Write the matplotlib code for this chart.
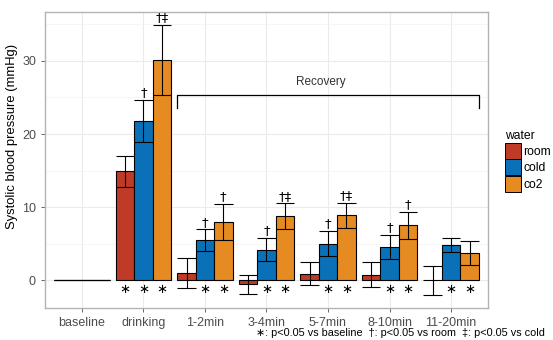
import numpy as np
import matplotlib.pyplot as plt
from matplotlib.patches import Patch

plt.rcParams['font.family'] = ['Liberation Sans', 'DejaVu Sans']

periods = ['baseline', 'drinking', '1-2min', '3-4min', '5-7min', '8-10min', '11-20min']
waters = ['room', 'cold', 'co2']
colors = ['#BF3A27', '#0A71B9', '#E68A22']

room_mean = [0, 14.9, 1.0, -0.55, 0.9, 0.78, 0.0]
room_se = [0, 2.15, 2.1, 1.3, 1.6, 1.7, 2.0]
cold_mean = [0, 21.8, 5.5, 4.2, 5.0, 4.56, 4.8]
cold_se = [0, 2.85, 1.45, 1.55, 1.7, 1.6, 1.0]
co2_mean = [0, 30.1, 8.0, 8.77, 8.9, 7.5, 3.75]
co2_se = [0, 4.8, 2.45, 1.75, 1.7, 1.9, 1.6]

# significance marks: star below bar, dagger text above error bar
room_star = [0, 1, 0, 0, 0, 0, 0]
cold_star = [0, 1, 1, 1, 1, 1, 1]
co2_star = [0, 1, 1, 1, 1, 1, 1]
room_mark = ['', '', '', '', '', '', '']
cold_mark = ['', '†', '†', '†', '†', '†', '']
co2_mark = ['', '†‡', '†', '†‡', '†‡', '†', '']

means = [room_mean, cold_mean, co2_mean]
ses = [room_se, cold_se, co2_se]
stars = [room_star, cold_star, co2_star]
marks = [room_mark, cold_mark, co2_mark]

fig = plt.figure(figsize=(5.53, 3.40), dpi=100)
ax = fig.add_axes([0.0814, 0.094, 0.801, 0.871])

x = np.arange(1, len(periods) + 1)
w = 0.3
lw = 0.8
for i in range(3):
    xs = x + (i - 1) * w
    m = np.array(means[i])
    s = np.array(ses[i])
    ax.bar(xs, m, width=w, color=colors[i], edgecolor='black', linewidth=lw, zorder=3)
    ax.vlines(xs, m - s, m + s, color='black', linewidth=lw, zorder=4)
    ax.hlines(m + s, xs - w / 2, xs + w / 2, color='black', linewidth=lw, zorder=4)
    ax.hlines(m - s, xs - w / 2, xs + w / 2, color='black', linewidth=lw, zorder=4)
    for j in range(len(periods)):
        if stars[i][j]:
            ax.text(xs[j], -1.2, '∗', ha='center', va='center', fontsize=9.5,
                    family='DejaVu Sans', zorder=5)
        if marks[i][j]:
            ax.text(xs[j], m[j] + s[j] + 0.1, marks[i][j], ha='center', va='bottom',
                    fontsize=9.5, family='DejaVu Sans', zorder=5)

# recovery bracket
ax.plot([2.55, 2.55, 7.45, 7.45], [23.6, 25.4, 25.4, 23.6], color='black', linewidth=0.9, zorder=5)
ax.text(4.88, 26.3, 'Recovery', ha='center', va='bottom', fontsize=8.5, color='#333333')

ax.set_xlim(0.4, 7.6)
ax.set_ylim(-3.8, 36.7)
ax.set_xticks(x)
ax.set_xticklabels(periods)
ax.set_yticks([0, 10, 20, 30])
ax.set_yticks([5, 15, 25, 35], minor=True)
ax.grid(True, which='major', color='#EBEBEB', linewidth=0.8, zorder=0)
ax.grid(True, which='minor', axis='y', color='#F3F3F3', linewidth=0.5, zorder=0)
ax.set_axisbelow(True)
ax.tick_params(axis='both', which='major', colors='#4D4D4D', labelsize=9, length=3, width=0.6)
ax.tick_params(axis='y', which='minor', length=0)
for sp in ax.spines.values():
    sp.set_color('#B3B3B3')
    sp.set_linewidth(1.0)
ax.set_ylabel('Systolic blood pressure (mmHg)', fontsize=9.4)
ax.yaxis.set_label_coords(-0.061, 0.578)

handles = [Patch(facecolor=c, edgecolor='black', linewidth=0.7) for c in colors]
fig.legend(handles, waters, title='water', loc='upper left', bbox_to_anchor=(0.902, 0.635),
           frameon=False, fontsize=8.7, title_fontsize=8.7, handlelength=1.35, handleheight=1.65,
           labelspacing=0.05, handletextpad=0.2, borderpad=0, alignment='left')

fig.text(256 / 553, 0.02, '∗: p<0.05 vs baseline  †: p<0.05 vs room  ‡: p<0.05 vs cold',
         ha='left', va='center', fontsize=7.8, family=['Liberation Sans', 'DejaVu Sans'])

fig.savefig('out.png', dpi=100)
